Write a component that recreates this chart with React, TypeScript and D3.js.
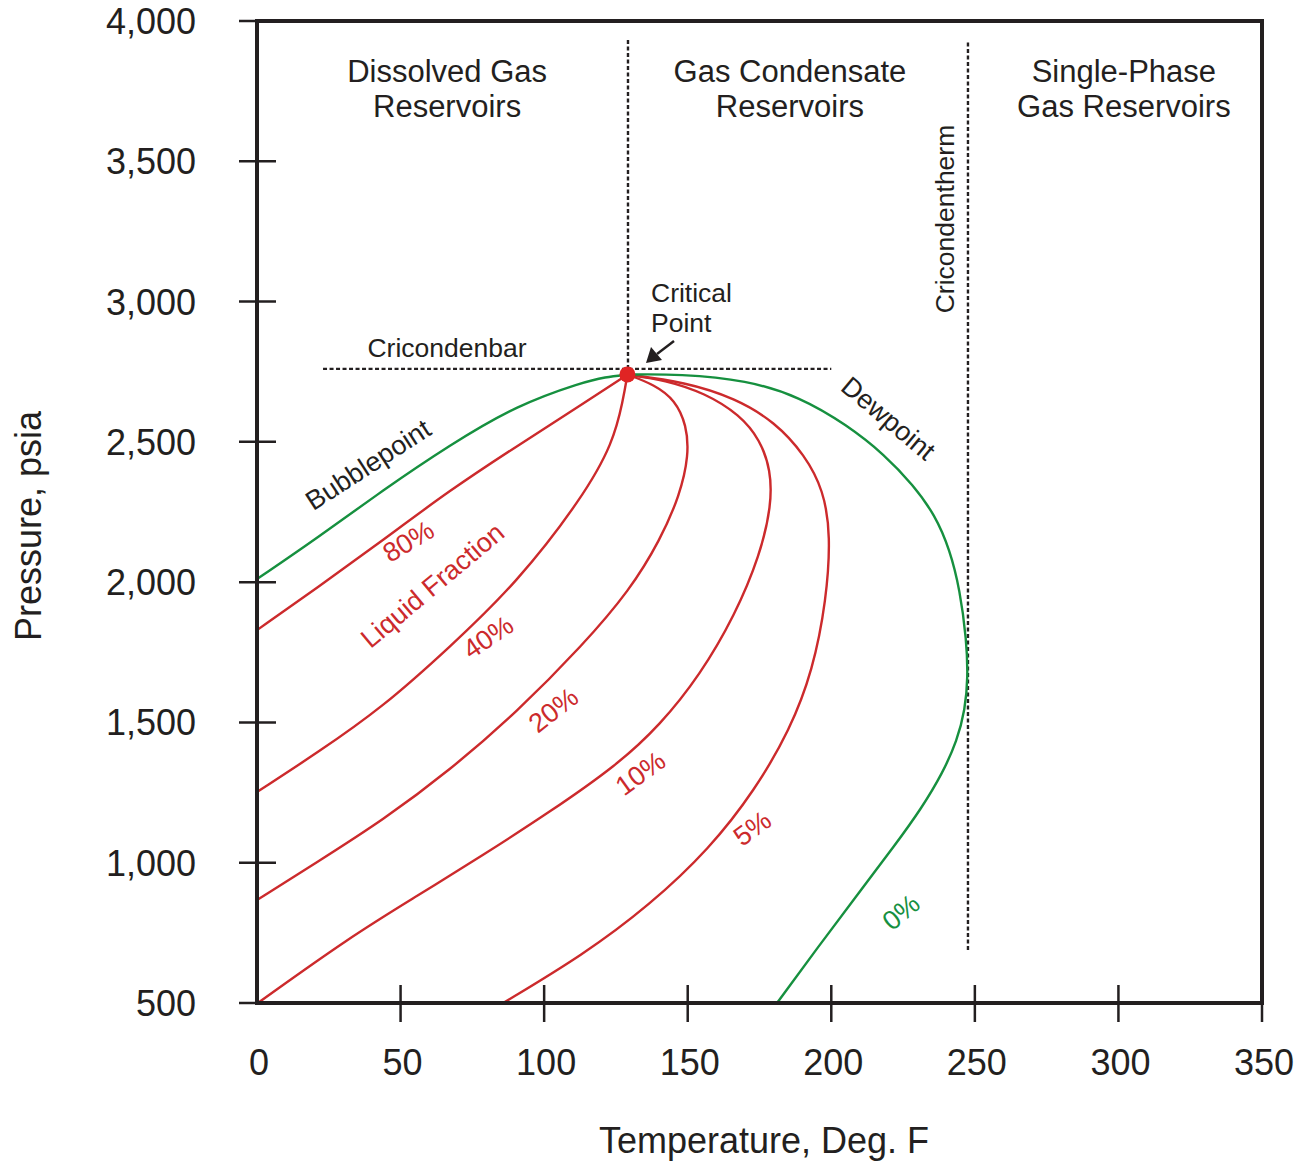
import React from "react";
import * as d3 from "d3";

// ---- data (Temperature °F, Pressure psia) ----
const xTicks = [50, 100, 150, 200, 250, 300, 350];
const xTickLabels = [0, 50, 100, 150, 200, 250, 300, 350];
const yTicks = [500, 1000, 1500, 2000, 2500, 3000, 3500, 4000];

const criticalPoint: [number, number] = [129, 2740];

const bubblepoint: [number, number][] = [
  [0, 2011], [20.9, 2157], [43.9, 2328], [67.2, 2489], [90.5, 2631],
  [113.5, 2713], [121.2, 2731], [129, 2740],
];
const liq80: [number, number][] = [
  [0, 1829], [20.9, 1979], [43.9, 2150], [67.2, 2328], [90.5, 2485],
  [113.5, 2635], [129, 2740],
];
const liq40: [number, number][] = [
  [0, 1252], [20.9, 1391], [43.9, 1555], [67.2, 1769], [90.5, 1997],
  [113.5, 2303], [124, 2496], [127.5, 2649], [129, 2740],
];
const liq20: [number, number][] = [
  [0, 867], [20.9, 1002], [43.9, 1152], [67.2, 1330], [90.5, 1537],
  [113.5, 1776], [129.9, 1972], [140.4, 2150], [147.3, 2311], [150.4, 2453],
  [149.6, 2560], [145.6, 2649], [138.6, 2703], [129, 2740],
];
const liq10: [number, number][] = [
  [0.3, 500], [32.4, 735], [55.7, 881], [78.7, 1027], [102, 1181],
  [125.4, 1348], [140.4, 1491], [154.3, 1669], [166.5, 1883], [175.2, 2097],
  [179.2, 2275], [178.9, 2400], [175.2, 2507], [168.2, 2596], [156, 2674],
  [142.1, 2720], [129, 2740],
];
const liq5: [number, number][] = [
  [85.7, 500], [113.5, 671], [136.8, 849], [157.8, 1052], [173.4, 1259],
  [185.6, 1473], [193.6, 1687], [198.3, 1936], [199.8, 2168], [197.3, 2328],
  [190.8, 2453], [180.4, 2571], [166.5, 2656], [149.1, 2713], [129, 2740],
];
const dewpoint: [number, number][] = [
  [129, 2740], [147.3, 2742], [170.6, 2720], [189.1, 2660], [205.5, 2560],
  [218.7, 2453], [228.5, 2346], [236.1, 2240], [241.3, 2115], [244.8, 1972],
  [247.1, 1794], [247.6, 1660], [246.6, 1545], [243.8, 1435], [238.8, 1320],
  [231.5, 1195], [222, 1060], [210.5, 905], [196.5, 715], [181.1, 500],
];

const cricondenbarP = 2760;
const cricondenbarT = [23, 200];
const criticalVerticalT = 129.2;
const criticalVerticalP = [2760, 3932];
const cricondenthermT = 247.6;
const cricondenthermP = [689, 3932];

// labels: text, T, P, angle
const curveLabels = [
  { text: "Bubblepoint", t: 38.6, p: 2420, a: -33, c: "dark" },
  { text: "Dewpoint", t: 220, p: 2585, a: 40, c: "dark" },
  { text: "80%", t: 52.6, p: 2147, a: -31, c: "red" },
  { text: "Liquid Fraction", t: 61.0, p: 1990, a: -40, c: "red" },
  { text: "40%", t: 80.4, p: 1805, a: -34, c: "red" },
  { text: "20%", t: 103.1, p: 1545, a: -38, c: "red" },
  { text: "10%", t: 133.4, p: 1320, a: -36, c: "red" },
  { text: "5%", t: 172.4, p: 1124, a: -36, c: "red" },
  { text: "0%", t: 224.2, p: 825, a: -40, c: "green" },
];

const regionLabels = [
  { lines: ["Dissolved Gas", "Reservoirs"], t: 66.2 },
  { lines: ["Gas Condensate", "Reservoirs"], t: 185.6 },
  { lines: ["Single-Phase", "Gas Reservoirs"], t: 301.9 },
];

const RED = "#cc2a2c";
const GREEN = "#16903f";
const DARK = "#231f20";
const FONT = "'Liberation Sans', Arial, Helvetica, sans-serif";

export default function App() {
  const x = d3.scaleLinear().domain([0, 350]).range([257, 1262]);
  const y = d3.scaleLinear().domain([500, 4000]).range([1003, 21]);
  const line = d3
    .line<[number, number]>()
    .x((d) => x(d[0]))
    .y((d) => y(d[1]))
    .curve(d3.curveBasis);

  const redCurves = [liq80, liq40, liq20, liq10, liq5];
  const colorOf = (c: string) => (c === "red" ? RED : c === "green" ? GREEN : DARK);

  return (
    <svg
      width={1301}
      height={1161}
      style={{ position: "absolute", left: 0, top: 0, background: "#fff" }}
      fontFamily={FONT}
    >
      <rect x={0} y={0} width={1301} height={1161} fill="#fff" />
      {/* dashed reference lines */}
      <g stroke={DARK} strokeWidth={2.4} strokeDasharray="4,2.5" fill="none">
        <line x1={x(cricondenbarT[0])} x2={x(cricondenbarT[1])} y1={y(cricondenbarP)} y2={y(cricondenbarP)} />
        <line x1={x(criticalVerticalT)} x2={x(criticalVerticalT)} y1={y(criticalVerticalP[0])} y2={y(criticalVerticalP[1])} />
        <line x1={x(cricondenthermT)} x2={x(cricondenthermT)} y1={y(cricondenthermP[0])} y2={y(cricondenthermP[1])} />
      </g>

      {/* curves */}
      <g fill="none" strokeWidth={2.4} strokeLinecap="round">
        {redCurves.map((c, i) => (
          <path key={i} d={line(c) || ""} stroke={RED} />
        ))}
        <path d={line(bubblepoint) || ""} stroke={GREEN} />
        <path d={line(dewpoint) || ""} stroke={GREEN} />
      </g>
      <circle cx={x(criticalPoint[0])} cy={y(criticalPoint[1])} r={8} fill="#e02424" />

      {/* frame */}
      <rect x={257} y={21} width={1005} height={982} fill="none" stroke={DARK} strokeWidth={4} />
      {/* ticks */}
      <g stroke={DARK} strokeWidth={2.5}>
        {yTicks.map((v) => (
          <line key={v} x1={239} x2={276} y1={y(v)} y2={y(v)} />
        ))}
        {xTicks.map((v) => (
          <line key={v} x1={x(v)} x2={x(v)} y1={985} y2={1022} />
        ))}
      </g>
      {/* tick labels */}
      <g fill={DARK} fontSize={36}>
        {yTicks.map((v) => (
          <text key={v} x={196} y={y(v)} dy="0.36em" textAnchor="end">
            {d3.format(",")(v)}
          </text>
        ))}
        {xTickLabels.map((v) => (
          <text key={v} x={x(v) + 2} y={1062} dy="0.36em" textAnchor="middle">
            {v}
          </text>
        ))}
      </g>
      {/* axis titles */}
      <text x={764} y={1140} dy="0.36em" textAnchor="middle" fontSize={36} fill={DARK}>
        Temperature, Deg. F
      </text>
      <text
        transform={`translate(28,526) rotate(-90)`}
        dy="0.36em"
        textAnchor="middle"
        fontSize={36}
        fill={DARK}
      >
        Pressure, psia
      </text>

      {/* region labels */}
      <g fontSize={31} fill={DARK} textAnchor="middle">
        {regionLabels.map((r) => (
          <text key={r.lines[0]} x={x(r.t)}>
            <tspan x={x(r.t)} y={82}>{r.lines[0]}</tspan>
            <tspan x={x(r.t)} y={117}>{r.lines[1]}</tspan>
          </text>
        ))}
      </g>

      {/* annotations */}
      <g fontSize={26.5} fill={DARK}>
        <text x={651} y={292} dy="0.36em">Critical</text>
        <text x={651} y={322} dy="0.36em">Point</text>
        <text x={447} y={347} dy="0.36em" textAnchor="middle">Cricondenbar</text>
        <text transform={`translate(944,219) rotate(-90)`} dy="0.36em" textAnchor="middle">
          Cricondentherm
        </text>
      </g>
      {/* arrow to critical point */}
      <line x1={674} y1={341} x2={657} y2={354} stroke={DARK} strokeWidth={2.4} />
      <path d="M646,363 L651,347 L662,360 Z" fill={DARK} />

      {/* curve labels */}
      <g fontSize={27}>
        {curveLabels.map((l) => (
          <text
            key={l.text}
            transform={`translate(${x(l.t)},${y(l.p)}) rotate(${l.a})`}
            dy="0.36em"
            textAnchor="middle"
            fill={colorOf(l.c)}
          >
            {l.text}
          </text>
        ))}
      </g>
    </svg>
  );
}
